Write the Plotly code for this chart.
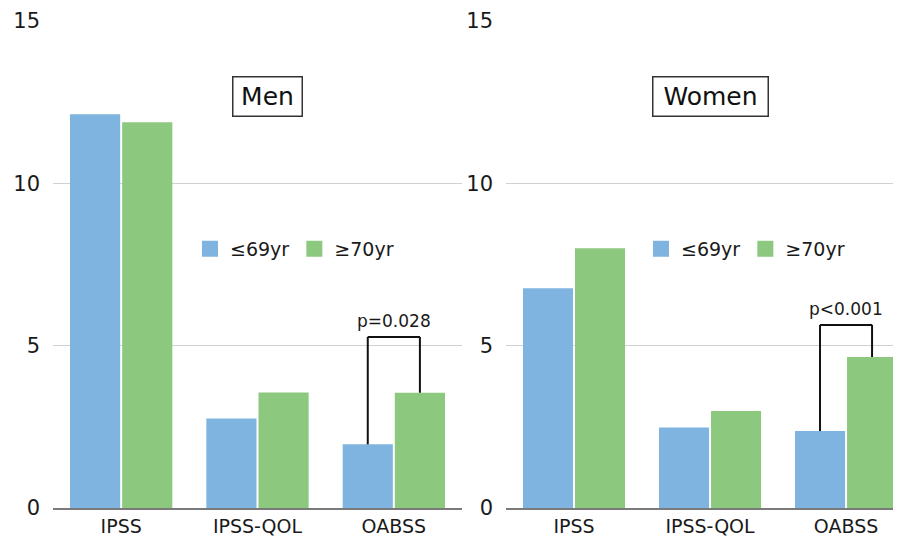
import plotly.graph_objects as go

# ---- data ----
categories = ["IPSS", "IPSS-QOL", "OABSS"]
groups = ["≤69yr", "≥70yr"]
men_le69 = [12.13, 2.76, 1.96]
men_ge70 = [11.88, 3.56, 3.55]
women_le69 = [6.77, 2.48, 2.37]
women_ge70 = [8.00, 2.99, 4.65]
panel_titles = ["Men", "Women"]
p_labels = ["p=0.028", "p<0.001"]
p_category = "OABSS"
bracket_top = [5.27, 5.64]
y_ticks = [0, 5, 10, 15]

BLUE = "#7fb4e1"
GREEN = "#8cc97f"
FONT = "DejaVu Sans"
TXT = "#1a1a1a"

# page body has an 8px margin, so the figure occupies 893x533 of the 901x541 window
W, H = 893, 533
bargap = 0.235
bargroupgap = 0.038

fig = go.Figure()
panels = [(men_le69, men_ge70, "x", "y", "legend"),
          (women_le69, women_ge70, "x2", "y2", "legend2")]

for i, (a, b, xa, ya, lg) in enumerate(panels):
    fig.add_trace(go.Bar(x=categories, y=a, name=groups[0], marker_color=BLUE,
                         marker_line_width=0, xaxis=xa, yaxis=ya, showlegend=False))
    fig.add_trace(go.Bar(x=categories, y=b, name=groups[1], marker_color=GREEN,
                         marker_line_width=0, xaxis=xa, yaxis=ya, showlegend=False))
    # legend entries
    for g, col in zip(groups, [BLUE, GREEN]):
        fig.add_trace(go.Scatter(x=[None], y=[None], mode="markers", name=g,
                                 marker=dict(symbol="square", size=16, color=col),
                                 xaxis=xa, yaxis=ya, legend=lg, showlegend=True))
    # significance bracket
    k = categories.index(p_category)
    d = (1 - bargap) / 4
    xl, xr = k - d, k + d
    top = bracket_top[i]
    line = dict(color="#111111", width=2)
    fig.add_shape(type="line", xref=xa, yref=ya, x0=xl, x1=xl, y0=a[k], y1=top, line=line)
    fig.add_shape(type="line", xref=xa, yref=ya, x0=xl, x1=xr, y0=top, y1=top, line=line)
    fig.add_shape(type="line", xref=xa, yref=ya, x0=xr, x1=xr, y0=top, y1=b[k], line=line)
    fig.add_annotation(x=k, y=top, xref=xa, yref=ya, text=p_labels[i], showarrow=False,
                       yanchor="bottom", yshift=4, font=dict(family=FONT, size=17, color=TXT))
    # panel title box
    fig.add_annotation(x=1.07 if i == 0 else 1.0, y=12.69, xref=xa, yref=ya,
                       text=panel_titles[i], showarrow=False,
                       font=dict(family=FONT, size=25, color="#111111"),
                       bordercolor="#333333", borderwidth=1.5, borderpad=3,
                       width=62 if i == 0 else 108, height=32, bgcolor="white")

axis_common = dict(showgrid=False, showline=True, linecolor="#7a7a7a", linewidth=2,
                   ticks="", tickfont=dict(family=FONT, size=19, color=TXT))
yaxis_common = dict(range=[0, 15], tickvals=y_ticks, showgrid=True, gridcolor="#cfd2d2",
                    gridwidth=1, zeroline=False, showline=False, ticks="",
                    tickfont=dict(family=FONT, size=21, color=TXT), ticklabelstandoff=12)

fig.update_layout(
    width=W, height=H,
    margin=dict(l=0, r=0, t=13, b=33),
    plot_bgcolor="white", paper_bgcolor="white",
    barmode="group", bargap=bargap, bargroupgap=bargroupgap,
    xaxis=dict(domain=[45 / W, 454 / W], range=[-0.5, 2.5], **axis_common),
    xaxis2=dict(domain=[498 / W, 1.0], range=[-0.5, 2.404], **axis_common),
    yaxis=dict(anchor="x", **yaxis_common),
    yaxis2=dict(anchor="x2", **yaxis_common),
    legend=dict(orientation="h", x=182 / W, y=0.532, xanchor="left", yanchor="middle",
                font=dict(family=FONT, size=19, color=TXT), itemsizing="trace",
                bgcolor="rgba(0,0,0,0)"),
    legend2=dict(orientation="h", x=633 / W, y=0.532, xanchor="left", yanchor="middle",
                 font=dict(family=FONT, size=19, color=TXT), itemsizing="trace",
                 bgcolor="rgba(0,0,0,0)"),
    showlegend=True,
)

fig.write_html("out.html")
